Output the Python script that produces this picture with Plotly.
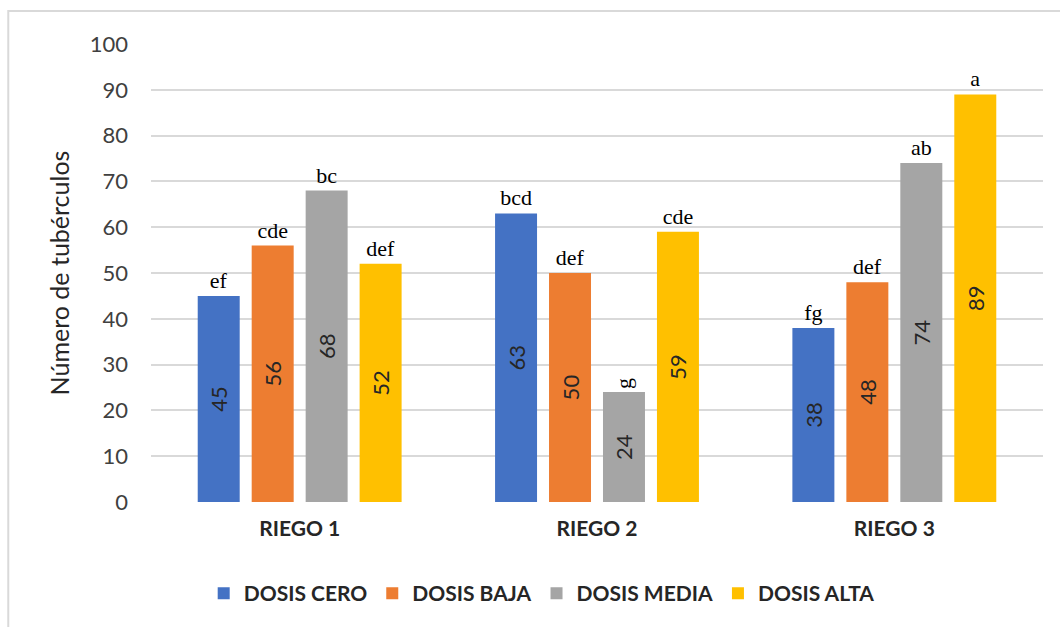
import plotly.graph_objects as go

# Número de tubérculos por nivel de riego y dosis
riegos = ["RIEGO 1", "RIEGO 2", "RIEGO 3"]
series_names = ["DOSIS CERO", "DOSIS BAJA", "DOSIS MEDIA", "DOSIS ALTA"]
dosis_cero = [45, 63, 38]
dosis_baja = [56, 50, 48]
dosis_media = [68, 24, 74]
dosis_alta = [52, 59, 89]

# letras de significancia (prueba de medias)
letras_cero = ["ef", "bcd", "fg"]
letras_baja = ["cde", "def", "def"]
letras_media = ["bc", "g", "ab"]
letras_alta = ["def", "cde", "a"]

colors = ["#4472C4", "#ED7D31", "#A5A5A5", "#FFC000"]

values = [dosis_cero, dosis_baja, dosis_media, dosis_alta]
letters = [letras_cero, letras_baja, letras_media, letras_alta]

SANS = "Lato"
SERIF = "Liberation Serif"

fig = go.Figure()

for i, (name, vals, col) in enumerate(zip(series_names, values, colors)):
    fig.add_trace(go.Bar(
        name=name, x=riegos, y=vals, offsetgroup=str(i),
        marker=dict(color=col, line=dict(width=0)),
        text=[str(v) for v in vals], textposition="inside",
        insidetextanchor="middle", textangle=-90, constraintext="none",
        textfont=dict(family=SANS, size=22, color="#262626"),
        hoverinfo="skip",
    ))

# letters drawn above each bar via transparent bars sharing the same slot;
# the lone "g" is written sideways
for i, (vals, lets) in enumerate(zip(values, letters)):
    sideways = [t if t == "g" else "" for t in lets]
    upright = [t if t != "g" else "" for t in lets]
    for txt, ang in ((upright, 0), (sideways, -90)):
        if not any(txt):
            continue
        fig.add_trace(go.Bar(
            x=riegos, y=vals, offsetgroup=str(i), showlegend=False,
            marker=dict(color="rgba(0,0,0,0)", line=dict(width=0)),
            text=txt, textposition="outside", textangle=ang,
            constraintext="none", cliponaxis=False,
            textfont=dict(family=SERIF, size=22, color="#000000"),
            hoverinfo="skip",
        ))

fig.update_layout(
    width=1060, height=627,
    margin=dict(l=151, r=17, t=44, b=125),
    paper_bgcolor="white", plot_bgcolor="white",
    barmode="group", bargap=0.274, bargroupgap=0.222,
    hovermode=False,
    showlegend=True,
    legend=dict(
        orientation="h", x=0.438, xanchor="center", y=-0.2, yanchor="middle",
        font=dict(family=SANS, size=21, color="#262626", weight="bold"),
        traceorder="normal", itemwidth=30,
    ),
    xaxis=dict(
        showgrid=False, showline=False, zeroline=False, ticks="",
        tickfont=dict(family=SANS, size=21, color="#262626", weight="bold"),
        ticklabelstandoff=12,
    ),
    yaxis=dict(
        range=[0, 100], dtick=10, showgrid=True, gridcolor="#D9D9D9",
        gridwidth=1.5, zeroline=False, showline=False, ticks="",
        tickfont=dict(family=SANS, size=22, color="#404040"),
        ticklabelstandoff=22,
        title=dict(text="Número de tubérculos",
                   font=dict(family=SANS, size=25, color="#262626"),
                   standoff=12),
    ),
    shapes=[dict(
        type="rect", xref="paper", yref="paper",
        x0=-0.16, x1=1.03, y0=-0.30, y1=1.072,
        line=dict(color="#D9D9D9", width=2), layer="below",
    )],
)

fig.write_html("out.html")
